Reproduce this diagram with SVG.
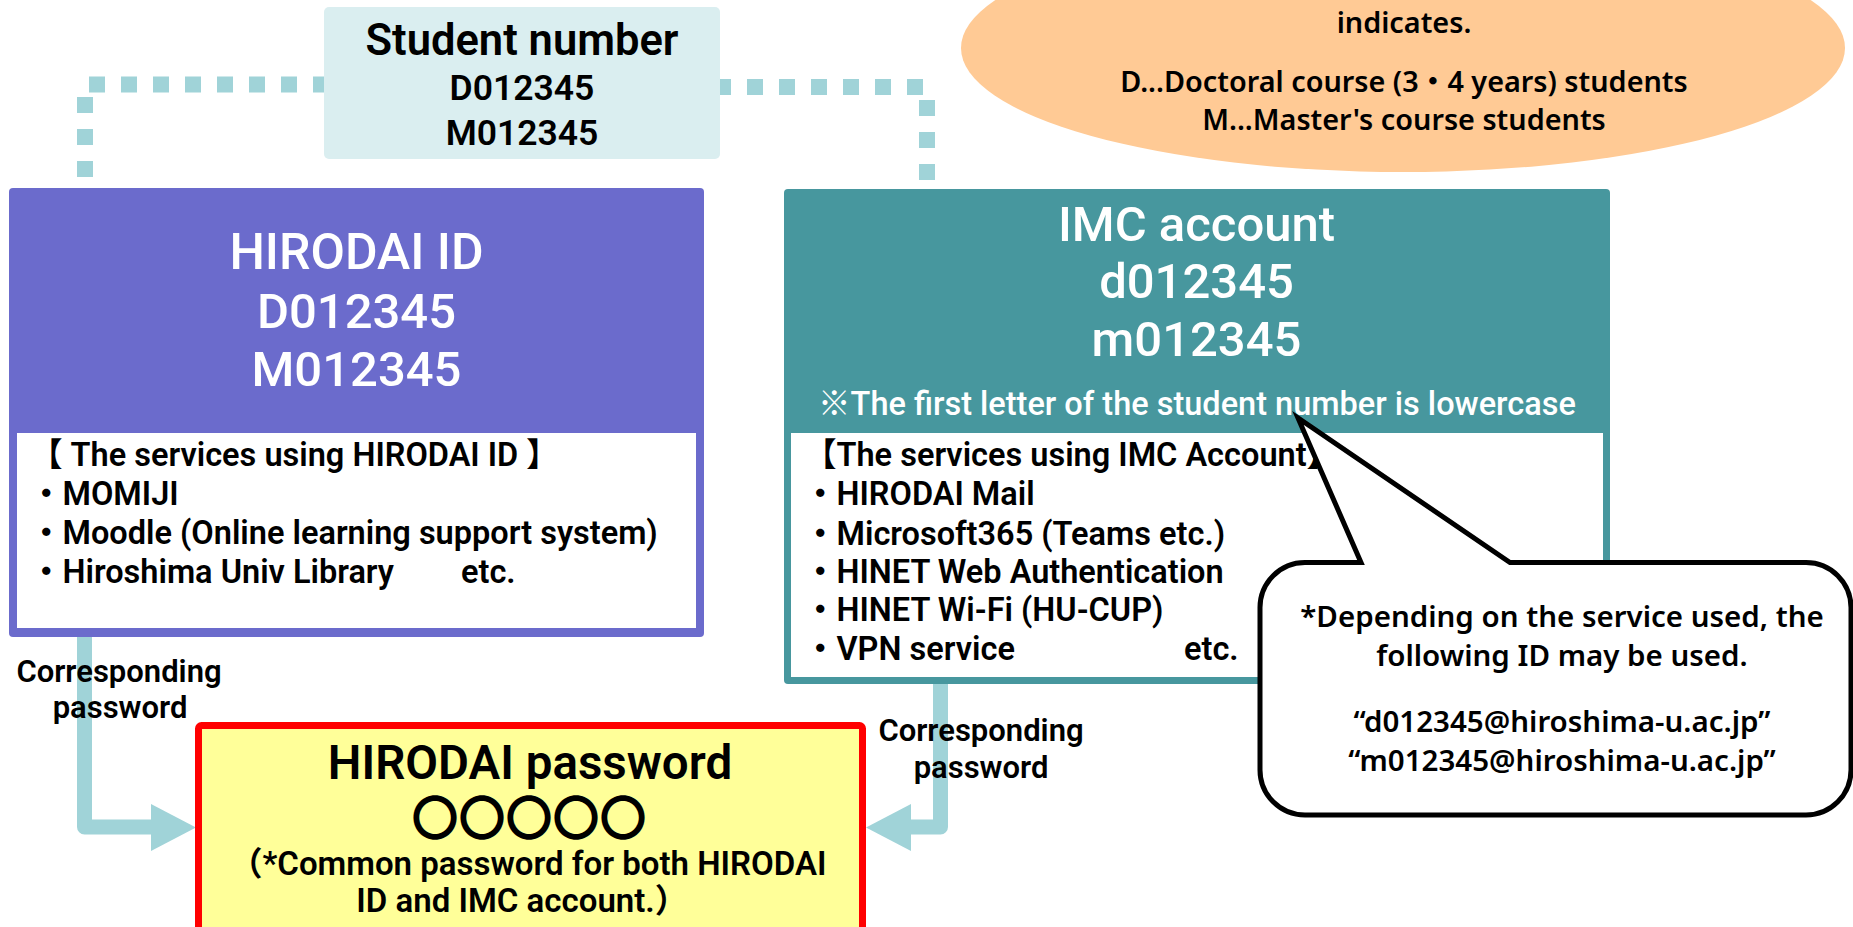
<svg xmlns="http://www.w3.org/2000/svg" width="1853" height="927" viewBox="0 0 1853 927">
<style>
text{font-family:Roboto,"Noto Sans CJK JP",sans-serif;font-weight:600;fill:#000}
.n{font-family:"Noto Sans","Noto Sans CJK JP",sans-serif}
.c{text-anchor:middle}
.w{fill:#fff;font-weight:550}
.dot{fill:none;stroke:#A0D3D8;stroke-width:16;stroke-dasharray:16 16}
.shaft{fill:none;stroke:#A0D3D8;stroke-width:15;stroke-linejoin:round}
.head{fill:#A0D3D8}
.lst{font-size:32.5px}
.lbl{font-size:31px}
.bub{font-size:29.5px}
.ell{font-size:28.8px}
</style>
<rect width="1853" height="927" fill="#fff"/>

<g id="note-ellipse">
<ellipse cx="1403" cy="48" rx="442" ry="124" fill="#FFCA95"/>
<text class="n c ell" x="1404" y="33">indicates.</text>
<text class="n c ell" x="1404" y="92" font-size="28">D...Doctoral course (3・4 years) students</text>
<text class="n c ell" x="1404" y="130">M...Master's course students</text>
</g>

<g id="connectors">
<line class="dot" x1="89" y1="84.5" x2="329" y2="84.5"/>
<line class="dot" x1="85" y1="97" x2="85" y2="177"/>
<line class="dot" x1="715" y1="87" x2="923" y2="87"/>
<line class="dot" x1="927" y1="100" x2="927" y2="180"/>
<path class="shaft" d="M84.5,636 V827 H153"/>
<polygon class="head" points="151,804 196,827.5 151,851"/>
<path class="shaft" d="M940.5,683 V827 H909"/>
<polygon class="head" points="911,804 866,827.5 911,851"/>
<text class="lbl c" x="119" y="682">Corresponding</text>
<text class="lbl c" x="120" y="718">password</text>
<text class="lbl c" x="981" y="741">Corresponding</text>
<text class="lbl c" x="981" y="778">password</text>
</g>

<g id="student-number">
<rect x="324" y="7" width="396" height="152" rx="5" fill="#DAEEF0"/>
<text class="c" x="522" y="55" font-size="43.5">Student number</text>
<text class="c" x="522" y="100" font-size="35.5">D012345</text>
<text class="c" x="522" y="145" font-size="35.5">M012345</text>
</g>

<g id="hirodai-id">
<rect x="9" y="188" width="695" height="449" rx="4" fill="#6B6BCC"/>
<rect x="17" y="433" width="679" height="195" fill="#fff"/>
<text class="c w" x="356.5" y="269" font-size="50">HIRODAI ID</text>
<text class="c w" x="356.5" y="328" font-size="49">D012345</text>
<text class="c w" x="356.5" y="386" font-size="49">M012345</text>
<text class="lst" x="30" y="466">【 The services using HIRODAI ID 】</text>
<text class="lst" x="30" y="505">・MOMIJI</text>
<text class="lst" x="30" y="544">・Moodle (Online learning support system)</text>
<text class="lst" x="30" y="583">・Hiroshima Univ Library<tspan x="461">etc.</tspan></text>
</g>

<g id="imc-account">
<rect x="784" y="189" width="826" height="495" rx="4" fill="#47979E"/>
<rect x="791" y="433" width="812" height="244" fill="#fff"/>
<text class="c w" x="1196.5" y="241" font-size="49">IMC account</text>
<text class="c w" x="1196.5" y="298" font-size="49">d012345</text>
<text class="c w" x="1196.5" y="356" font-size="49">m012345</text>
<text class="c w" x="1197" y="415" font-size="32.5">※The first letter of the student number is lowercase</text>
<text class="lst" x="804" y="466">【The services using IMC Account】</text>
<text class="lst" x="804" y="505">・HIRODAI Mail</text>
<text class="lst" x="804" y="545">・Microsoft365 (Teams etc.)</text>
<text class="lst" x="804" y="583">・HINET Web Authentication</text>
<text class="lst" x="804" y="621">・HINET Wi-Fi (HU-CUP)</text>
<text class="lst" x="804" y="660">・VPN service<tspan x="1184">etc.</tspan></text>
</g>

<g id="hirodai-password">
<rect x="198.5" y="725.5" width="664" height="220" rx="3" fill="#FFFF99" stroke="#FF0000" stroke-width="7"/>
<text class="c" x="530" y="779" font-size="47.5">HIRODAI password</text>
<text class="c" x="529" y="835" font-size="47" font-weight="500">〇〇〇〇〇</text>
<text class="c" x="528" y="875" font-size="33">（*Common password for both HIRODAI</text>
<text class="c" x="522" y="912" font-size="33">ID and IMC account.）</text>
</g>

<g id="callout">
<path d="M1305,562.5 H1361 L1298,418 L1510,562.5 H1806 A45,45 0 0 1 1851,607.5 V770 A45,45 0 0 1 1806,815 H1305 A45,45 0 0 1 1260,770 V607.5 A45,45 0 0 1 1305,562.5 Z" fill="#fff" stroke="#000" stroke-width="5" stroke-linejoin="miter"/>
<text class="n c bub" x="1562" y="627">*Depending on the service used, the</text>
<text class="n c bub" x="1562" y="666">following ID may be used.</text>
<text class="n c bub" x="1562" y="732">“d012345@hiroshima-u.ac.jp”</text>
<text class="n c bub" x="1562" y="771">“m012345@hiroshima-u.ac.jp”</text>
</g>
</svg>
